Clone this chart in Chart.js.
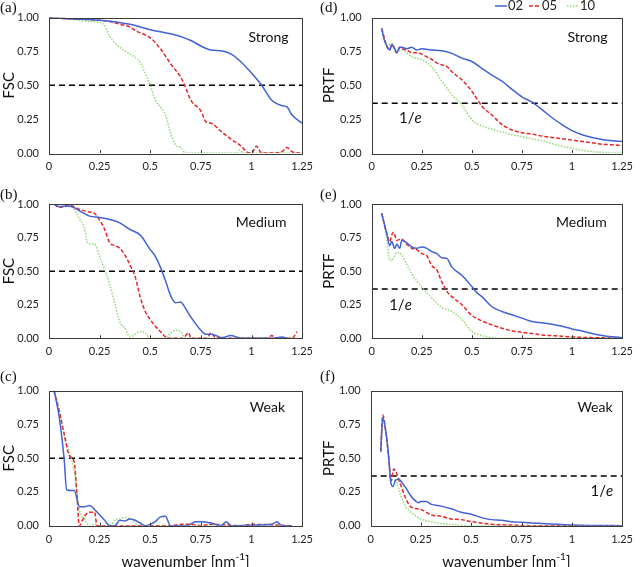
<!DOCTYPE html>
<html>
<head>
<meta charset="utf-8">
<script src="https://cdn.jsdelivr.net/npm/chart.js@4.4.1/dist/chart.umd.min.js"></script>
<style>
body { margin: 0; background: #fff; }
#wrap { position: relative; width: 640px; height: 567px; overflow: hidden; }
#wrap canvas { position: absolute; }
</style>
</head>
<body>
<div id="wrap">
  <canvas id="pa"></canvas>
  <canvas id="pd"></canvas>
  <canvas id="pb"></canvas>
  <canvas id="pe"></canvas>
  <canvas id="pc"></canvas>
  <canvas id="pf"></canvas>
</div>
<script>
// series names and tick labels
var seriesNames = ['02', '05', '10'];
var xTicks = [0, 0.25, 0.5, 0.75, 1, 1.25];
var yTicks = [0, 0.25, 0.5, 0.75, 1];

// [wavenumber, value]
var fscStrong02 = [[0,1],[0.1,0.99],[0.25,0.98],[0.4,0.95],[0.5,0.91],[0.6,0.88],[0.65,0.86],[0.7,0.83],[0.75,0.79],[0.8,0.76],[0.85,0.755],[0.9,0.73],[0.95,0.67],[1,0.59],[1.05,0.5],[1.1,0.39],[1.15,0.35],[1.175,0.34],[1.2,0.28],[1.25,0.22]];
var fscStrong05 = [[0,1],[0.1,0.99],[0.25,0.98],[0.3,0.97],[0.35,0.95],[0.4,0.93],[0.43,0.9],[0.5,0.85],[0.55,0.77],[0.6,0.66],[0.65,0.56],[0.67,0.5],[0.7,0.39],[0.75,0.31],[0.775,0.23],[0.8,0.22],[0.85,0.16],[0.9,0.1],[0.95,0.05],[0.975,0.01],[1,0],[1.025,0.05],[1.05,0],[1.1,0],[1.15,0.01],[1.175,0.04],[1.2,0.01],[1.225,0],[1.25,0]];
var fscStrong10 = [[0,1],[0.1,0.99],[0.2,0.97],[0.25,0.965],[0.275,0.94],[0.3,0.86],[0.35,0.78],[0.4,0.73],[0.45,0.67],[0.475,0.59],[0.5,0.5],[0.525,0.39],[0.55,0.34],[0.575,0.28],[0.6,0.15],[0.625,0.06],[0.65,0.04],[0.675,0],[0.925,0],[0.94,0.02],[0.96,0],[1.25,0]];

var fscMedium02 = [[0.025,1],[0.05,0.98],[0.1,0.985],[0.15,0.95],[0.2,0.91],[0.25,0.9],[0.3,0.885],[0.35,0.86],[0.4,0.81],[0.45,0.77],[0.5,0.66],[0.525,0.61],[0.55,0.53],[0.575,0.43],[0.6,0.32],[0.625,0.265],[0.65,0.27],[0.675,0.22],[0.7,0.16],[0.75,0.06],[0.775,0.03],[0.8,0.03],[0.825,0.02],[0.85,0.005],[0.9,0.02],[0.925,0.01],[0.95,0],[1.1,0],[1.15,0.01],[1.175,0]];
var fscMedium05 = [[0.025,1],[0.05,0.975],[0.1,0.99],[0.15,0.96],[0.2,0.94],[0.225,0.93],[0.25,0.88],[0.275,0.81],[0.3,0.71],[0.325,0.69],[0.35,0.67],[0.375,0.62],[0.4,0.545],[0.425,0.46],[0.45,0.31],[0.475,0.2],[0.5,0.14],[0.525,0.09],[0.55,0.05],[0.575,0.01],[0.6,0],[0.66,0],[0.69,0.04],[0.7,0],[0.78,0],[0.8,0.04],[0.825,0],[1.08,0],[1.1,0.02],[1.12,0],[1.2,0],[1.225,0.05]];
var fscMedium10 = [[0.025,1],[0.05,0.98],[0.1,0.98],[0.125,0.96],[0.15,0.89],[0.175,0.82],[0.19,0.71],[0.225,0.7],[0.25,0.61],[0.275,0.51],[0.3,0.4],[0.325,0.26],[0.35,0.12],[0.375,0.075],[0.4,0.01],[0.425,0.03],[0.45,0.05],[0.475,0.04],[0.5,0],[0.575,0],[0.6,0.04],[0.625,0.06],[0.65,0.05],[0.675,0],[1.25,0]];

var fscWeak02 = [[0.025,1],[0.05,0.81],[0.075,0.49],[0.087,0.265],[0.125,0.26],[0.15,0.14],[0.175,0.14],[0.2,0.15],[0.225,0.12],[0.25,0.08],[0.275,0.04],[0.3,0],[0.325,0],[0.35,0.04],[0.375,0.035],[0.4,0.05],[0.425,0.04],[0.45,0.02],[0.475,0],[0.5,0.01],[0.525,0.03],[0.55,0.065],[0.575,0.07],[0.6,0],[0.68,0],[0.725,0.03],[0.75,0.03],[0.8,0.02],[0.85,0],[0.875,0.03],[0.9,0],[1.1,0.01],[1.125,0.03],[1.15,0],[1.2,0]];
var fscWeak05 = [[0.025,1],[0.05,0.85],[0.075,0.68],[0.1,0.52],[0.125,0.47],[0.137,0.25],[0.15,0],[0.175,0.07],[0.2,0.1],[0.225,0.1],[0.237,0],[0.6,0],[0.65,0.01],[0.7,0.01],[0.75,0],[0.8,0.01],[0.95,0],[1,0.01],[1.2,0]];
var fscWeak10 = [[0.025,1],[0.05,0.87],[0.075,0.67],[0.1,0.55],[0.125,0.4],[0.15,0.12],[0.175,0.05],[0.2,0],[0.225,0.01],[0.25,0],[0.3,0],[0.325,0.04],[0.35,0.05],[0.375,0.06],[0.4,0.05],[0.425,0.02],[0.45,0],[1.2,0]];

var prtfStrong02 = [[0.05,0.92],[0.06,0.85],[0.075,0.79],[0.09,0.76],[0.1,0.8],[0.115,0.77],[0.125,0.74],[0.14,0.78],[0.15,0.78],[0.175,0.77],[0.2,0.78],[0.225,0.76],[0.25,0.77],[0.3,0.76],[0.35,0.755],[0.4,0.735],[0.45,0.7],[0.5,0.675],[0.55,0.625],[0.6,0.575],[0.65,0.53],[0.7,0.47],[0.75,0.415],[0.8,0.375],[0.85,0.32],[0.9,0.26],[0.95,0.21],[1,0.165],[1.05,0.135],[1.1,0.115],[1.15,0.1],[1.2,0.09],[1.25,0.085]];
var prtfStrong05 = [[0.05,0.92],[0.075,0.79],[0.09,0.76],[0.1,0.8],[0.125,0.74],[0.14,0.78],[0.15,0.77],[0.175,0.76],[0.2,0.74],[0.225,0.74],[0.25,0.73],[0.275,0.71],[0.3,0.69],[0.325,0.665],[0.35,0.65],[0.375,0.64],[0.4,0.6],[0.45,0.54],[0.475,0.5],[0.5,0.455],[0.525,0.4],[0.55,0.345],[0.575,0.31],[0.6,0.28],[0.65,0.21],[0.7,0.17],[0.75,0.15],[0.8,0.14],[0.85,0.125],[0.9,0.115],[0.95,0.105],[1,0.095],[1.05,0.085],[1.1,0.075],[1.15,0.065],[1.2,0.06],[1.25,0.055]];
var prtfStrong10 = [[0.05,0.92],[0.075,0.79],[0.1,0.81],[0.125,0.75],[0.15,0.76],[0.175,0.74],[0.2,0.71],[0.25,0.69],[0.3,0.635],[0.35,0.53],[0.4,0.43],[0.45,0.355],[0.5,0.245],[0.55,0.2],[0.6,0.175],[0.65,0.155],[0.7,0.135],[0.75,0.12],[0.8,0.105],[0.85,0.09],[0.9,0.07],[0.95,0.05],[1,0.035],[1.05,0.02],[1.1,0.01],[1.15,0.005],[1.2,0],[1.25,0]];

var prtfMedium02 = [[0.05,0.93],[0.075,0.78],[0.09,0.69],[0.1,0.72],[0.115,0.67],[0.125,0.7],[0.14,0.67],[0.15,0.73],[0.175,0.71],[0.2,0.68],[0.225,0.67],[0.25,0.68],[0.275,0.67],[0.3,0.645],[0.325,0.63],[0.35,0.6],[0.375,0.595],[0.4,0.53],[0.45,0.47],[0.5,0.385],[0.525,0.34],[0.55,0.31],[0.6,0.235],[0.65,0.2],[0.7,0.175],[0.75,0.15],[0.8,0.125],[0.85,0.115],[0.9,0.105],[0.95,0.09],[1,0.07],[1.05,0.055],[1.1,0.035],[1.15,0.02],[1.2,0.012],[1.25,0.005]];
var prtfMedium05 = [[0.05,0.93],[0.075,0.78],[0.09,0.72],[0.1,0.77],[0.11,0.79],[0.125,0.73],[0.15,0.74],[0.175,0.7],[0.2,0.67],[0.225,0.66],[0.25,0.63],[0.275,0.615],[0.3,0.54],[0.325,0.51],[0.35,0.42],[0.375,0.35],[0.4,0.31],[0.45,0.25],[0.5,0.17],[0.55,0.13],[0.6,0.1],[0.65,0.075],[0.7,0.055],[0.75,0.045],[0.8,0.035],[0.85,0.025],[0.9,0.02],[0.95,0.015],[1,0.01],[1.1,0.005],[1.25,0]];
var prtfMedium10 = [[0.05,0.93],[0.075,0.75],[0.09,0.58],[0.1,0.58],[0.125,0.64],[0.15,0.62],[0.175,0.55],[0.2,0.48],[0.25,0.38],[0.3,0.3],[0.35,0.23],[0.4,0.2],[0.45,0.14],[0.5,0.05],[0.55,0.02],[0.6,0.005],[0.65,0],[1.25,0]];

var prtfWeak02 = [[0.05,0.55],[0.06,0.8],[0.075,0.7],[0.09,0.5],[0.1,0.32],[0.11,0.29],[0.125,0.34],[0.14,0.345],[0.15,0.33],[0.175,0.28],[0.2,0.22],[0.225,0.18],[0.237,0.17],[0.25,0.18],[0.275,0.18],[0.3,0.16],[0.35,0.145],[0.4,0.125],[0.45,0.1],[0.5,0.085],[0.55,0.06],[0.6,0.045],[0.65,0.04],[0.7,0.03],[0.75,0.025],[0.8,0.02],[0.9,0.012],[1,0.005],[1.1,0.002],[1.25,0]];
var prtfWeak05 = [[0.05,0.55],[0.06,0.82],[0.075,0.7],[0.09,0.5],[0.1,0.33],[0.115,0.42],[0.125,0.4],[0.15,0.3],[0.175,0.2],[0.2,0.14],[0.25,0.12],[0.3,0.08],[0.35,0.07],[0.4,0.05],[0.45,0.045],[0.5,0.03],[0.55,0.02],[0.6,0.01],[0.7,0.005],[0.8,0],[1.25,0]];
var prtfWeak10 = [[0.05,0.55],[0.06,0.8],[0.075,0.68],[0.09,0.48],[0.1,0.35],[0.125,0.33],[0.15,0.22],[0.175,0.14],[0.2,0.1],[0.25,0.05],[0.3,0.03],[0.35,0.015],[0.4,0.01],[0.5,0],[1.25,0]];

var fscThreshold = 0.5;
var prtfThreshold = 1 / Math.E;

var colors = ['rgb(66, 98, 214)', 'rgb(230, 40, 40)', 'rgb(150, 215, 120)'];
var dashes = [[], [4, 2], [1.5, 1.5]];

var panels = [
    {id: 'pa', left: 0, top: 0, w: 320, h: 180, area: [49, 308, 17.5, 153], yTitle: 'FSC', tag: '(a)', tagY: 8, name: 'Strong', nameAt: [0.867, 0.144], ref: fscThreshold, data: [fscStrong02, fscStrong05, fscStrong10]},
    {id: 'pd', left: 320, top: 0, w: 320, h: 180, area: [51.7, 310, 17.5, 153], yTitle: 'PRTF', tag: '(d)', tagY: 8, name: 'Strong', nameAt: [0.862, 0.144], ref: prtfThreshold, eAt: [0.154, 0.742], legend: true, data: [prtfStrong02, prtfStrong05, prtfStrong10]},
    {id: 'pb', left: 0, top: 185, w: 320, h: 180, area: [49, 308, 19, 153.3], yTitle: 'FSC', tag: '(b)', tagY: 10, name: 'Medium', nameAt: [0.838, 0.14], ref: fscThreshold, data: [fscMedium02, fscMedium05, fscMedium10]},
    {id: 'pe', left: 320, top: 185, w: 320, h: 180, area: [51.7, 310, 19, 153.3], yTitle: 'PRTF', tag: '(e)', tagY: 10, name: 'Medium', nameAt: [0.837, 0.14], ref: prtfThreshold, eAt: [0.115, 0.752], data: [prtfMedium02, prtfMedium05, prtfMedium10]},
    {id: 'pc', left: 0, top: 370, w: 320, h: 197, area: [49, 307.5, 20.7, 155.7], yTitle: 'FSC', tag: '(c)', tagY: 7, name: 'Weak', nameAt: [0.863, 0.128], ref: fscThreshold, xTitle: true, data: [fscWeak02, fscWeak05, fscWeak10]},
    {id: 'pf', left: 320, top: 370, w: 320, h: 197, area: [50.7, 309, 20.7, 155.7], yTitle: 'PRTF', tag: '(f)', tagY: 7, name: 'Weak', nameAt: [0.892, 0.128], ref: prtfThreshold, eAt: [0.919, 0.743], xTitle: true, data: [prtfWeak02, prtfWeak05, prtfWeak10]}
];

var sans = 'Lato, "Open Sans", sans-serif';
var serif = '"Liberation Serif", "DejaVu Serif", serif';

// frame, inner ticks, panel texts, legend
var decorations = {
    id: 'decorations',
    afterDraw: function (chart) {
        var p = chart.options.plugins.decorations.panel;
        var ctx = chart.ctx;
        var a = chart.chartArea;
        var xs = chart.scales.x;
        ctx.save();
        ctx.strokeStyle = '#3a3a3a';
        ctx.lineWidth = 1;
        ctx.strokeRect(Math.round(a.left) + 0.5, Math.round(a.top) + 0.5, Math.round(a.right - a.left), Math.round(a.bottom - a.top));
        xTicks.forEach(function (t) {
            var px = Math.round(xs.getPixelForValue(t)) + 0.5;
            ctx.beginPath();
            ctx.moveTo(px, a.bottom);
            ctx.lineTo(px, a.bottom - 3);
            ctx.stroke();
        });

        ctx.fillStyle = '#111';
        ctx.textBaseline = 'middle';
        ctx.textAlign = 'left';
        ctx.font = '15px ' + serif;
        ctx.fillText(p.tag, 0, p.tagY);

        ctx.textAlign = 'center';
        ctx.font = '14px ' + sans;
        ctx.fillText(p.name, a.left + p.nameAt[0] * (a.right - a.left), a.top + p.nameAt[1] * (a.bottom - a.top));

        if (p.eAt) {
            var ex = a.left + p.eAt[0] * (a.right - a.left);
            var ey = a.top + p.eAt[1] * (a.bottom - a.top);
            ctx.font = '15px ' + sans;
            var w1 = ctx.measureText('1/').width;
            ctx.font = 'italic 15px ' + sans;
            var w2 = ctx.measureText('e').width;
            ctx.textAlign = 'left';
            ctx.font = '15px ' + sans;
            ctx.fillText('1/', ex - (w1 + w2) / 2, ey);
            ctx.font = 'italic 15px ' + sans;
            ctx.fillText('e', ex - (w1 + w2) / 2 + w1, ey);
        }

        if (p.xTitle) {
            var cx = (a.left + a.right) / 2 + 10;
            var cy = 192;
            ctx.font = '15px ' + sans;
            var s1 = 'wavenumber [nm';
            var w3 = ctx.measureText(s1).width;
            ctx.font = '10px ' + sans;
            var w4 = ctx.measureText('-1').width;
            ctx.font = '15px ' + sans;
            var w5 = ctx.measureText(']').width;
            var x0 = cx - (w3 + w4 + w5) / 2;
            ctx.textAlign = 'left';
            ctx.fillText(s1, x0, cy);
            ctx.font = '10px ' + sans;
            ctx.fillText('-1', x0 + w3, cy - 5);
            ctx.font = '15px ' + sans;
            ctx.fillText(']', x0 + w3 + w4, cy);
        }

        if (p.legend) {
            var lx = [175, 209, 247];
            ctx.font = '13px ' + sans;
            ctx.textAlign = 'left';
            for (var i = 0; i < 3; i++) {
                ctx.strokeStyle = colors[i];
                ctx.lineWidth = 1.5;
                ctx.setLineDash(dashes[i]);
                ctx.beginPath();
                ctx.moveTo(lx[i], 6);
                ctx.lineTo(lx[i] + 12, 6);
                ctx.stroke();
                ctx.setLineDash([]);
                ctx.fillStyle = '#222';
                ctx.fillText(seriesNames[i], lx[i] + 13, 6);
            }
        }
        ctx.restore();
    }
};

panels.forEach(function (p) {
    var canvas = document.getElementById(p.id);
    canvas.width = p.w;
    canvas.height = p.h;
    canvas.style.left = p.left + 'px';
    canvas.style.top = p.top + 'px';
    canvas.style.width = p.w + 'px';
    canvas.style.height = p.h + 'px';

    var datasets = p.data.map(function (d, i) {
        return {
            label: seriesNames[i],
            data: d.map(function (q) { return {x: q[0], y: q[1]}; }),
            borderColor: colors[i],
            borderWidth: 1.5,
            borderDash: dashes[i],
            pointRadius: 0,
            fill: false,
            cubicInterpolationMode: 'monotone'
        };
    });
    datasets.push({
        label: 'threshold',
        data: [{x: 0, y: p.ref}, {x: 1.25, y: p.ref}],
        borderColor: '#000',
        borderWidth: 1.5,
        borderDash: [6, 4],
        pointRadius: 0,
        fill: false
    });

    new Chart(canvas, {
        type: 'line',
        data: {datasets: datasets},
        plugins: [decorations],
        options: {
            responsive: false,
            animation: false,
            layout: {
                padding: {left: 0, right: p.w - p.area[1], top: p.area[2], bottom: 0}
            },
            plugins: {
                legend: {display: false},
                tooltip: {enabled: false},
                decorations: {panel: p}
            },
            scales: {
                x: {
                    type: 'linear',
                    min: 0,
                    max: 1.25,
                    afterFit: function (s) { s.height = p.h - p.area[3]; },
                    afterBuildTicks: function (s) { s.ticks = xTicks.map(function (v) { return {value: v}; }); },
                    grid: {display: false, drawTicks: false},
                    border: {display: false},
                    ticks: {
                        padding: 7,
                        maxRotation: 0,
                        color: '#222',
                        font: {family: sans, size: 11},
                        callback: function (v) { return String(v); }
                    }
                },
                y: {
                    type: 'linear',
                    min: 0,
                    max: 1,
                    afterFit: function (s) { s.width = p.area[0]; },
                    afterBuildTicks: function (s) { s.ticks = yTicks.map(function (v) { return {value: v}; }); },
                    grid: {display: false, drawTicks: false},
                    border: {display: false},
                    title: {
                        display: true,
                        text: p.yTitle,
                        color: '#111',
                        padding: {top: 0, bottom: 0},
                        font: {family: sans, size: 15}
                    },
                    ticks: {
                        padding: 10,
                        color: '#222',
                        font: {family: sans, size: 11},
                        callback: function (v) { return v.toFixed(2); }
                    }
                }
            }
        }
    });
});
</script>
</body>
</html>
